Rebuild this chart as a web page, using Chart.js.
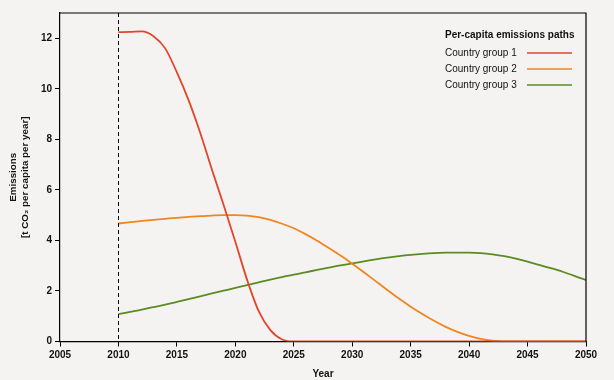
<!DOCTYPE html>
<html lang="en">
<head>
    <meta charset="UTF-8">
    <title>Per-capita emissions paths</title>
    <script src="https://cdn.jsdelivr.net/npm/chart.js"></script>
    <style>
        body { margin: 0; background: #f4f3f2; }
        #wrap { width: 614px; height: 380px; }
    </style>
</head>
<body>
    <div id="wrap"><canvas id="emChart" width="614" height="380"></canvas></div>

    <script>
        // values, one per year
        const years = [2010, 2011, 2012, 2013, 2014, 2015, 2016, 2017, 2018, 2019,
                       2020, 2021, 2022, 2023, 2024, 2025, 2026, 2027, 2028, 2029,
                       2030, 2031, 2032, 2033, 2034, 2035, 2036, 2037, 2038, 2039,
                       2040, 2041, 2042, 2043, 2044, 2045, 2046, 2047, 2048, 2049, 2050];
        const group1 = [12.24, 12.25, 12.27, 12.08, 11.6, 10.65, 9.55, 8.25, 6.8, 5.4,
                        3.95, 2.45, 1.2, 0.45, 0.08, 0, 0, 0, 0, 0,
                        0, 0, 0, 0, 0, 0, 0, 0, 0, 0,
                        0, 0, 0, 0, 0, 0, 0, 0, 0, 0, 0];
        const group2 = [4.67, 4.72, 4.77, 4.815, 4.855, 4.895, 4.93, 4.96, 4.985, 5.0,
                        5.0, 4.98, 4.92, 4.81, 4.66, 4.48, 4.25, 3.99, 3.7, 3.4,
                        3.08, 2.74, 2.39, 2.04, 1.7, 1.38, 1.09, 0.82, 0.58, 0.38,
                        0.22, 0.1, 0.03, 0, 0, 0, 0, 0, 0, 0, 0];
        const group3 = [1.08, 1.17, 1.26, 1.36, 1.46, 1.57, 1.68, 1.79, 1.9, 2.01,
                        2.12, 2.23, 2.34, 2.45, 2.55, 2.65, 2.74, 2.83, 2.92, 3.01,
                        3.09, 3.17, 3.25, 3.32, 3.38, 3.43, 3.47, 3.5, 3.515, 3.52,
                        3.52, 3.5, 3.45, 3.38, 3.28, 3.16, 3.03, 2.9, 2.76, 2.6, 2.43];
        const seriesNames = ['Country group 1', 'Country group 2', 'Country group 3'];
        const seriesColors = ['#e2462a', '#ef861f', '#5b8b22'];
        const startYear = 2010;

        const toPoints = arr => arr.map((v, i) => ({ x: years[i], y: v }));
        const FONT = '"Liberation Sans", Arial, sans-serif';

        // box round the plot, dashed line at the start year, legend
        const extras = {
            id: 'extras',
            afterDatasetsDraw(chart) {
                const c = chart.ctx, a = chart.chartArea;
                const xs = chart.scales.x;
                c.save();
                c.strokeStyle = '#000';
                c.lineWidth = 1.2;
                c.beginPath();
                c.moveTo(a.left, a.top);
                c.lineTo(a.right, a.top);
                c.lineTo(a.right, a.bottom);
                c.stroke();

                const px = Math.round(xs.getPixelForValue(startYear)) + 0.5;
                c.setLineDash([4, 3]);
                c.lineWidth = 1;
                c.beginPath();
                c.moveTo(px, a.top);
                c.lineTo(px, a.bottom);
                c.stroke();
                c.setLineDash([]);

                const lx = a.right - 141;
                c.fillStyle = '#111';
                c.textBaseline = 'middle';
                c.font = 'bold 10px ' + FONT;
                c.fillText('Per-capita emissions paths', lx, a.top + 22);
                c.font = '10px ' + FONT;
                seriesNames.forEach((name, i) => {
                    const y = a.top + 40 + i * 16;
                    c.fillStyle = '#111';
                    c.fillText(name, lx, y);
                    c.strokeStyle = seriesColors[i];
                    c.lineWidth = 1.5;
                    c.beginPath();
                    c.moveTo(lx + 82, y);
                    c.lineTo(lx + 127, y);
                    c.stroke();
                });
                c.restore();
            }
        };

        new Chart(document.getElementById('emChart'), {
            type: 'line',
            data: {
                datasets: [group1, group2, group3].map((d, i) => ({
                    label: seriesNames[i],
                    data: toPoints(d),
                    borderColor: seriesColors[i],
                    borderWidth: 1.8,
                    pointRadius: 0,
                    fill: false,
                    cubicInterpolationMode: 'monotone'
                }))
            },
            options: {
                responsive: false,
                animation: false,
                layout: { padding: { top: 13, right: 28, left: 0, bottom: 0 } },
                plugins: { legend: { display: false }, tooltip: { enabled: false } },
                scales: {
                    x: {
                        type: 'linear',
                        min: 2005,
                        max: 2050,
                        ticks: {
                            stepSize: 5,
                            color: '#111',
                            padding: 3,
                            font: { family: FONT, size: 10, weight: 'bold' },
                            callback: v => String(v)
                        },
                        grid: { drawOnChartArea: false, drawTicks: true, tickLength: 5, color: '#000' },
                        border: { color: '#000', width: 1.2 },
                        title: {
                            display: true,
                            text: 'Year',
                            color: '#111',
                            padding: { top: 2, bottom: 0 },
                            font: { family: FONT, size: 10, weight: 'bold' }
                        },
                        afterFit: s => { s.height = 38.5; }
                    },
                    y: {
                        min: 0,
                        max: 13,
                        ticks: {
                            stepSize: 2,
                            color: '#111',
                            padding: 3,
                            font: { family: FONT, size: 10, weight: 'bold' }
                        },
                        afterBuildTicks: s => { s.ticks = s.ticks.filter(t => t.value % 2 === 0); },
                        grid: { drawOnChartArea: false, drawTicks: true, tickLength: 5, color: '#000' },
                        border: { color: '#000', width: 1.2 },
                        title: {
                            display: true,
                            text: ['Emissions', '[t CO\u2082 per capita per year]'],
                            color: '#111',
                            padding: { top: 7, bottom: 0 },
                            font: { family: FONT, size: 9.8, weight: 'bold', lineHeight: 1.22 }
                        },
                        afterFit: s => { s.width = 60; }
                    }
                }
            },
            plugins: [extras]
        });
    </script>
</body>
</html>
